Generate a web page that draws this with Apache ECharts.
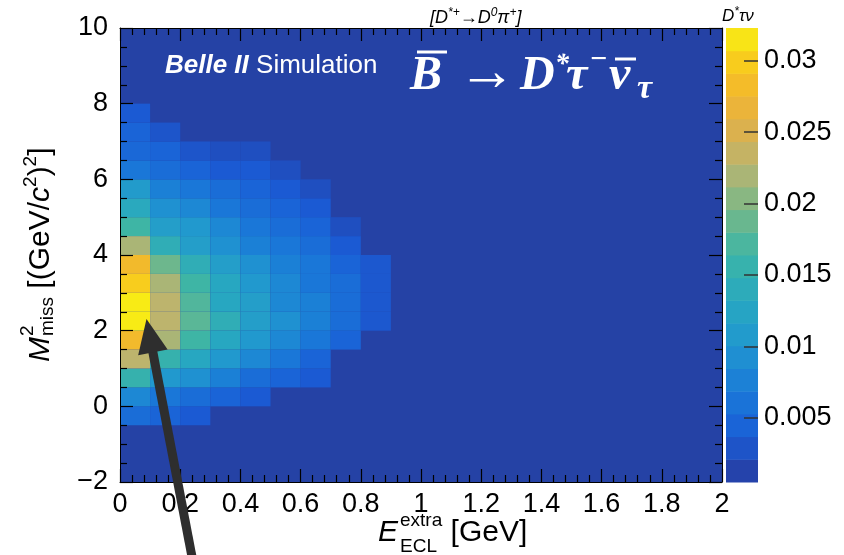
<!DOCTYPE html>
<html><head><meta charset="utf-8">
<script src="https://cdn.jsdelivr.net/npm/echarts@6/dist/echarts.min.js"></script>
<style>html,body{margin:0;padding:0;background:#fff}#c{width:844px;height:555px}</style>
</head><body><div id="c"></div>
<script>
// ---- binning (lower edges) ----
const xBinLow = [0, 0.1, 0.2, 0.3, 0.4, 0.5, 0.6, 0.7, 0.8];
const xBinWidth = 0.1;
const yBinLow = [-0.5, 0, 0.5, 1, 1.5, 2, 2.5, 3, 3.5, 4, 4.5, 5, 5.5, 6, 6.5, 7, 7.5];
const yBinWidth = 0.5;

// ---- bin contents per E_ECL column, from y=-0.5 (first) up to y=7.5 (last) ----
const col_0_00 = [0.0055, 0.0085, 0.0155, 0.023, 0.028, 0.032, 0.032, 0.030, 0.028, 0.022, 0.0165, 0.0135, 0.011, 0.0065, 0.005, 0.0045, 0.0035];
const col_0_10 = [0.0045, 0.0065, 0.0105, 0.0155, 0.022, 0.023, 0.023, 0.022, 0.019, 0.0145, 0.0115, 0.0095, 0.0075, 0.0055, 0.0045, 0.003, 0];
const col_0_20 = [0.0035, 0.0055, 0.0095, 0.013, 0.0165, 0.018, 0.0175, 0.0165, 0.0145, 0.0115, 0.0105, 0.0085, 0.0065, 0.0045, 0.003, 0, 0];
const col_0_30 = [0, 0.0045, 0.0075, 0.0105, 0.013, 0.0145, 0.013, 0.013, 0.0115, 0.0095, 0.0085, 0.0065, 0.0055, 0.0035, 0.0025, 0, 0];
const col_0_40 = [0, 0.0035, 0.0055, 0.0085, 0.0105, 0.0115, 0.0115, 0.0105, 0.0095, 0.0075, 0.0065, 0.0055, 0.0045, 0.0035, 0.0025, 0, 0];
const col_0_50 = [0, 0, 0.0045, 0.0065, 0.0085, 0.0095, 0.0085, 0.0085, 0.0075, 0.0065, 0.0055, 0.0045, 0.0035, 0.0025, 0, 0, 0];
const col_0_60 = [0, 0, 0.0035, 0.0045, 0.0065, 0.0075, 0.0075, 0.0065, 0.0065, 0.0055, 0.0045, 0.0035, 0.0025, 0, 0, 0, 0];
const col_0_70 = [0, 0, 0, 0, 0.0045, 0.0055, 0.0055, 0.0055, 0.0045, 0.0035, 0.0025, 0, 0, 0, 0, 0, 0];
const col_0_80 = [0, 0, 0, 0, 0, 0.0033, 0.0033, 0.0033, 0.0033, 0, 0, 0, 0, 0, 0, 0, 0];
const columns = [col_0_00, col_0_10, col_0_20, col_0_30, col_0_40, col_0_50, col_0_60, col_0_70, col_0_80];

// ---- axes ----
const xMin = 0, xMax = 2, xStep = 0.2;
const yMin = -2, yMax = 10, yStep = 2;
const zMin = 0.0005, zMax = 0.0323;
const zTickValues = [0.005, 0.01, 0.015, 0.02, 0.025, 0.03];
const nColorLevels = 20;
const paletteColors = ['#283a9c', '#1a5cd6', '#1a7ad8', '#2096d0', '#28a8c0', '#3cb5a6',
                       '#78b888', '#bab470', '#e6b042', '#f8c020', '#f8f014'];
const frameFill = '#2542a5';

// ---- build data ----
const heatData = [];
columns.forEach((col, i) => col.forEach((v, j) => {
  if (v > 0) heatData.push([xBinLow[i], yBinLow[j], v]);
}));
const barData = [];
for (let k = 0; k < nColorLevels; k++) {
  const lo = zMin + (zMax - zMin) * k / nColorLevels;
  const hi = zMin + (zMax - zMin) * (k + 1) / nColorLevels;
  barData.push([lo, hi, (lo + hi) / 2]);
}

const SANS = "'Liberation Sans', Arial, Helvetica, sans-serif";
const SERIF = "'Liberation Serif', 'Times New Roman', serif";
const mctx = document.createElement('canvas').getContext('2d');
function fontOf(p, fam) {
  return (p.italic ? 'italic ' : 'normal ') + (p.bold ? 'bold ' : 'normal ') + p.size + 'px ' + fam;
}
function runText(pieces, fam, color) {
  const out = []; let x = 0, prevStart = 0, prevW = 0;
  pieces.forEach(p => {
    mctx.font = fontOf(p, fam);
    const w = mctx.measureText(p.t).width;
    let px;
    if (p.stack) { px = prevStart; const adv = Math.max(w, prevW); x = prevStart + adv; prevW = adv; }
    else { px = (p.x !== undefined) ? p.x : x + (p.gap || 0); prevStart = px; prevW = w; x = px + w; }
    out.push({
      type: 'text', x: px, y: (p.dy || 0) - 0.345 * p.size, z: 100,
      style: { text: p.t, fontSize: p.size, fontFamily: fam, fontStyle: p.italic ? 'italic' : 'normal',
               fontWeight: p.bold ? 'bold' : 'normal', fill: color, align: 'left', verticalAlign: 'middle' }
    });
  });
  return out;
}

const axisColor = '#000';
function frameAxis(extra) {
  return Object.assign({
    type: 'value', gridIndex: 0, zlevel: 1, z: 10,
    axisLine: { show: true, onZero: false, lineStyle: { color: axisColor, width: 1 } },
    axisTick: { show: true, inside: true, length: 13, lineStyle: { color: axisColor, width: 1.2 } },
    minorTick: { show: true, length: 7, lineStyle: { color: axisColor, width: 1.2 } },
    splitLine: { show: false }, minorSplitLine: { show: false },
    axisLabel: { show: false }
  }, extra);
}
const labelStyle = { show: true, fontSize: 27, color: '#000', fontFamily: SANS };

const chart = echarts.init(document.getElementById('c'), null, { renderer: 'canvas' });

// arrow annotation
const tip = [146.5, 319], tail = [193, 562];
const dx = tail[0] - tip[0], dy = tail[1] - tip[1], L = Math.hypot(dx, dy);
const u = [dx / L, dy / L], n = [u[1], -u[0]];
const headLen = 34, headHalf = 15, shaftHalf = 4.5;
const hb = [tip[0] + u[0] * headLen, tip[1] + u[1] * headLen];
const arrowHead = [tip, [hb[0] + n[0] * headHalf, hb[1] + n[1] * headHalf], [hb[0] - n[0] * headHalf, hb[1] - n[1] * headHalf]];
const shaft = [[hb[0] + n[0] * shaftHalf - u[0] * 2, hb[1] + n[1] * shaftHalf - u[1] * 2],
               [tail[0] + n[0] * shaftHalf, tail[1] + n[1] * shaftHalf],
               [tail[0] - n[0] * shaftHalf, tail[1] - n[1] * shaftHalf],
               [hb[0] - n[0] * shaftHalf - u[0] * 2, hb[1] - n[1] * shaftHalf - u[1] * 2]];

const formula = [
  { t: 'B', size: 48, bold: true, italic: true, x: 410 },
  { t: '\u2192', size: 58, x: 458, dy: 2 },
  { t: 'D', size: 48, bold: true, italic: true, x: 520 },
  { t: '*', size: 28, bold: true, italic: true, x: 555, dy: -19 },
  { t: '\u03C4', size: 48, bold: true, italic: true, x: 566 },
  { t: '\u2212', size: 30, bold: true, x: 590, dy: -22 },
  { t: '\u03BD', size: 48, bold: true, italic: true, x: 609 },
  { t: '\u03C4', size: 34, bold: true, italic: true, x: 637, dy: 8 }
];

const option = {
  animation: false,
  backgroundColor: '#fff',
  grid: [
    { left: 120, top: 28, width: 602, height: 454, show: true, backgroundColor: frameFill, borderWidth: 0 },
    { left: 726, top: 28, width: 32, height: 454, show: false }
  ],
  xAxis: [
    frameAxis({ position: 'bottom', min: xMin, max: xMax, interval: xStep,
      minorTick: { show: true, splitNumber: 5, length: 7, lineStyle: { color: axisColor, width: 1.2 } },
      axisLabel: Object.assign({}, labelStyle, { margin: 9 }) }),
    frameAxis({ position: 'top', min: xMin, max: xMax, interval: xStep,
      minorTick: { show: true, splitNumber: 5, length: 7, lineStyle: { color: axisColor, width: 1.2 } } }),
    { type: 'value', gridIndex: 1, min: 0, max: 1, show: false }
  ],
  yAxis: [
    frameAxis({ position: 'left', min: yMin, max: yMax, interval: yStep,
      minorTick: { show: true, splitNumber: 4, length: 7, lineStyle: { color: axisColor, width: 1.2 } },
      axisLabel: Object.assign({}, labelStyle, { margin: 12,
        formatter: v => v < 0 ? '\u2212' + (-v) : String(v) }) }),
    frameAxis({ position: 'right', min: yMin, max: yMax, interval: yStep,
      minorTick: { show: true, splitNumber: 4, length: 7, lineStyle: { color: axisColor, width: 1.2 } } }),
    // colorbar labels (right side)
    { type: 'value', gridIndex: 1, position: 'right', min: zMin, max: zMax, zlevel: 1, z: 10,
      axisLine: { show: false }, axisTick: { show: false },
      axisLabel: Object.assign({}, labelStyle, { margin: 6, customValues: zTickValues, formatter: v => String(+v.toFixed(4)) }),
      splitLine: { show: false } },
    // colorbar tick marks: a left-type axis shifted onto the bar's right edge, ticks pointing left
    { type: 'value', gridIndex: 1, position: 'left', offset: -32, min: zMin, max: zMax, zlevel: 1, z: 10,
      axisLine: { show: false },
      axisTick: { show: true, inside: false, length: 14, customValues: zTickValues, lineStyle: { color: '#333', width: 1.5 } },
      axisLabel: { show: false }, splitLine: { show: false } }
  ],
  visualMap: [{
    type: 'continuous', show: false, min: zMin, max: zMax, dimension: 2, seriesIndex: [0, 1],
    inRange: { color: paletteColors }
  }],
  series: [
    {
      type: 'custom', xAxisIndex: 0, yAxisIndex: 0, data: heatData, clip: true, z: 2,
      renderItem: function (params, api) {
        const x0 = api.value(0), y0 = api.value(1);
        const a = api.coord([x0, y0 + yBinWidth]);
        const b = api.coord([x0 + xBinWidth, y0]);
        return { type: 'rect', shape: { x: a[0], y: a[1], width: b[0] - a[0], height: b[1] - a[1] },
                 style: { fill: api.visual('color'), stroke: null } };
      }
    },
    {
      type: 'custom', xAxisIndex: 2, yAxisIndex: 2, data: barData, z: 2,
      renderItem: function (params, api) {
        const lo = api.value(0), hi = api.value(1);
        const a = api.coord([0, hi]);
        const b = api.coord([1, lo]);
        return { type: 'rect', shape: { x: a[0], y: a[1], width: b[0] - a[0], height: b[1] - a[1] + 0.5 },
                 style: { fill: api.visual('color'), stroke: null } };
      }
    }
  ],
  graphic: [
    // Belle II Simulation
    { type: 'group', x: 165, y: 75, zlevel: 2, z: 100, children: runText([
      { t: 'Belle II', size: 26, bold: true, italic: true },
      { t: ' Simulation', size: 26 }], SANS, '#fff') },
    // decay formula
    { type: 'group', x: 0, y: 93, zlevel: 2, z: 100, children: runText(formula, SERIF, '#fff').concat([
      { type: 'line', z: 100, shape: { x1: 417, y1: -41, x2: 447, y2: -41 }, style: { stroke: '#fff', lineWidth: 3 } },
      { type: 'line', z: 100, shape: { x1: 615, y1: -34, x2: 636, y2: -34 }, style: { stroke: '#fff', lineWidth: 3 } }
    ]) },
    // top decay-channel label
    { type: 'group', x: 430, y: 24, zlevel: 2, z: 100, children: runText([
      { t: '[D', size: 18, italic: true },
      { t: '*+', size: 12, italic: true, dy: -7 },
      { t: '\u2192D', size: 18, italic: true },
      { t: '0', size: 12, italic: true, dy: -7 },
      { t: '\u03C0', size: 18, italic: true },
      { t: '+', size: 12, italic: true, dy: -7 },
      { t: ']', size: 18, italic: true }], SANS, '#000') },
    // colorbar title
    { type: 'group', x: 722, y: 22, zlevel: 2, z: 100, children: runText([
      { t: 'D', size: 17, italic: true },
      { t: '*', size: 12, italic: true, dy: -6 },
      { t: '\u03C4\u03BD', size: 17, italic: true }], SANS, '#000') },
    // x title
    { type: 'group', x: 378, y: 543, zlevel: 2, z: 100, children: runText([
      { t: 'E', size: 30, italic: true },
      { t: 'extra', size: 19, dy: -16, gap: 2 },
      { t: 'ECL', size: 19, dy: 10, stack: true },
      { t: ' [GeV]', size: 30 }], SANS, '#000') },
    // y title
    { type: 'group', x: 51, y: 362, rotation: Math.PI / 2, zlevel: 2, z: 100, children: runText([
      { t: 'M', size: 30, italic: true },
      { t: '2', size: 19, dy: -17, gap: 1 },
      { t: 'miss', size: 19, dy: 3, stack: true },
      { t: ' [(GeV/', size: 30 },
      { t: 'c', size: 30, italic: true },
      { t: '2', size: 19, dy: -14 },
      { t: ')', size: 30 },
      { t: '2', size: 19, dy: -14 },
      { t: ']', size: 30 }], SANS, '#000') },
    // arrow annotation
    { type: 'polygon', zlevel: 2, z: 200, shape: { points: shaft }, style: { fill: '#2e2e2e' } },
    { type: 'polygon', zlevel: 2, z: 200, shape: { points: arrowHead }, style: { fill: '#2e2e2e' } }
  ]
};
chart.setOption(option);
</script>
</body></html>
